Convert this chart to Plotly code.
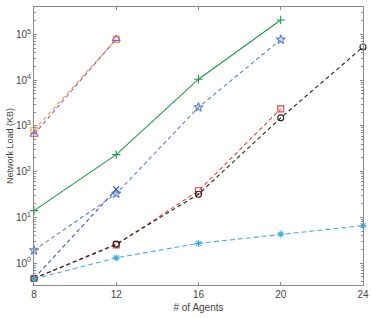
import plotly.graph_objects as go

agents = [8, 12, 16, 20, 24]

orange_sq = [800, 78000]
purple_tri = [650, 80000]
green_plus = [14, 235, 10500, 207000]
blue_star = [1.9, 33, 2550, 77000]
navy_x = [0.46, 41]
black_circ = [0.46, 2.6, 32, 1500, 53000]
red_sq = [0.46, 2.5, 38, 2350]
cyan_ast = [0.45, 1.3, 2.7, 4.3, 6.6]

series = [
    ("orange", orange_sq, "#F39C3C", "4px,3px", "square-open", 6),
    ("purple", purple_tri, "#9B59B6", "4px,3px", "triangle-up-open", 7),
    ("green", green_plus, "#1F9A4B", "solid", "cross-thin-open", 6),
    ("blue", blue_star, "#5B7FD0", "4px,3px", "star-open", 7),
    ("navy", navy_x, "#3A56B8", "4px,3px", "x-thin-open", 6),
    ("red", red_sq, "#E8413C", "4px,3px", "square-open", 6),
    ("black", black_circ, "#222222", "4px,3px", "circle-open", 6),
    ("cyan", cyan_ast, "#3DB0E0", "5px,3px", "asterisk-open", 6),
]

fig = go.Figure()
for name, vals, color, dash, sym, size in series:
    fig.add_trace(go.Scatter(
        x=agents[:len(vals)], y=vals, mode="lines+markers", name=name,
        line=dict(color=color, width=1.1, dash=dash),
        marker=dict(symbol=sym, size=size, color=color, line=dict(color=color, width=1.1)),
        cliponaxis=False, showlegend=False,
    ))

minor_vals = [m * 10 ** e for e in range(-1, 6) for m in range(2, 10)]
axcol = "#8a8a8a"
fig.update_layout(
    width=371, height=318,
    margin=dict(l=34, r=8, t=7, b=33, autoexpand=False),
    plot_bgcolor="white", paper_bgcolor="white",
    font=dict(family="Liberation Sans, Arial, sans-serif", size=10, color="#444"),
    xaxis=dict(
        range=[8, 24], tickvals=[8, 12, 16, 20, 24], ticks="inside", ticklen=3,
        showline=True, linecolor=axcol, mirror="allticks", tickcolor=axcol,
        showgrid=False, zeroline=False, automargin=False,
        tickfont=dict(size=10),
        title=dict(text="# of Agents", standoff=4, font=dict(size=10)),
    ),
    yaxis=dict(
        type="log", range=[-0.48, 5.6],
        tickvals=[1, 10, 100, 1000, 1e4, 1e5],
        ticktext=["10<sup>0</sup>", "10<sup>1</sup>", "10<sup>2</sup>", "10<sup>3</sup>",
                  "10<sup>4</sup>", "10<sup>5</sup>"],
        ticks="inside", ticklen=3, tickcolor=axcol,
        minor=dict(tickvals=minor_vals, ticks="inside", ticklen=2, tickcolor=axcol, showgrid=False),
        showline=True, linecolor=axcol, mirror="allticks",
        showgrid=False, zeroline=False, automargin=False,
        tickfont=dict(size=10),
        title=dict(text="Network Load (KB)", standoff=0, font=dict(size=9)),
    ),
)
fig.write_html("out.html", config={"displayModeBar": False},
               post_script="document.body.style.margin='0';")
